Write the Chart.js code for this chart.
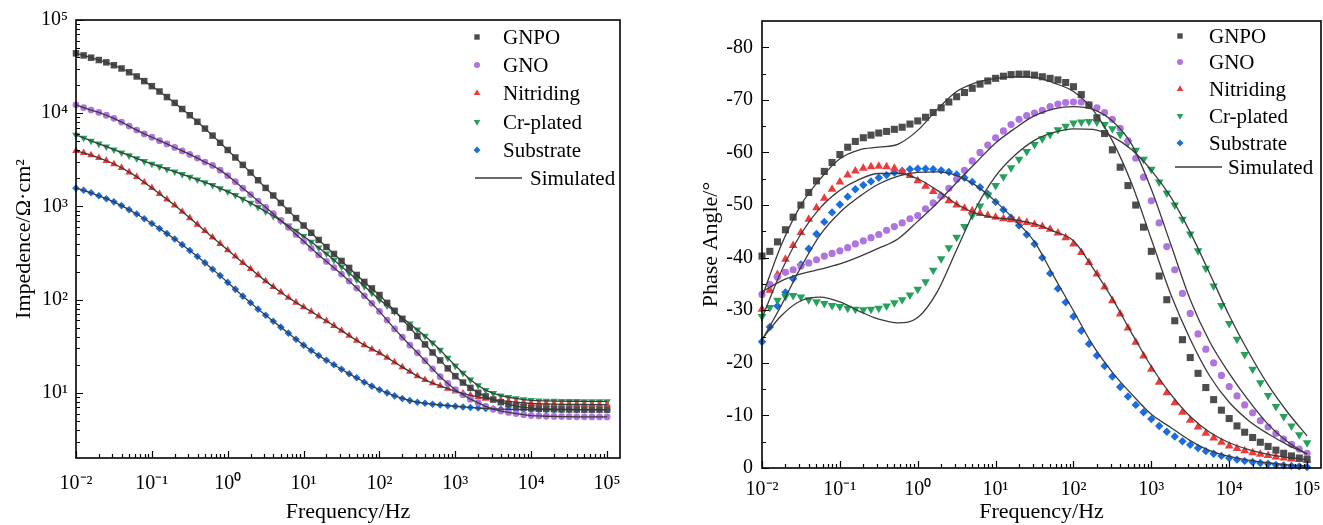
<!DOCTYPE html>
<html>
<head>
<meta charset="utf-8">
<script src="https://cdn.jsdelivr.net/npm/chart.js@4.4.0/dist/chart.umd.min.js"></script>
<style>
  html, body { margin: 0; padding: 0; background: #fff; }
  #wrap { position: relative; width: 1323px; height: 525px; overflow: hidden; }
  #impChart { position: absolute; left: 0; top: 0; }
  #phaseChart { position: absolute; left: 680px; top: 0; }
</style>
</head>
<body>
<div id="wrap">
  <canvas id="impChart" width="650" height="525"></canvas>
  <canvas id="phaseChart" width="663" height="525"></canvas>
</div>
<script>
// measured frequencies (Hz)
const freq = [0.01, 0.0126, 0.0158, 0.02, 0.0251, 0.0316, 0.0398, 0.0501, 0.0631, 0.0794,
  0.1, 0.126, 0.158, 0.2, 0.251, 0.316, 0.398, 0.501, 0.631, 0.794,
  1, 1.26, 1.58, 2, 2.51, 3.16, 3.98, 5.01, 6.31, 7.94,
  10, 12.6, 15.8, 20, 25.1, 31.6, 39.8, 50.1, 63.1, 79.4,
  100, 126, 158, 200, 251, 316, 398, 501, 631, 794,
  1000, 1260, 1580, 2000, 2510, 3160, 3980, 5010, 6310, 7940,
  10000, 12600, 15800, 20000, 25100, 31600, 39800, 50100, 63100, 79400,
  100000];
// frequencies of the fitted (simulated) phase curves
const simFreq = [0.01, 0.0178, 0.0316, 0.0562, 0.1, 0.178, 0.316, 0.562, 1, 1.78,
  3.16, 5.62, 10, 17.8, 31.6, 56.2, 100, 178, 316, 562,
  1000, 1780, 3160, 5620, 10000, 17800, 31600, 56200, 100000];

const seriesNames = ['GNPO', 'GNO', 'Nitriding', 'Cr-plated', 'Substrate'];
const simName = 'Simulated';

// |Z| (ohm cm2)
const zGNPO = [43900, 41700, 39400, 37200, 35100, 32700, 30200, 27500, 24800, 22100,
  19500, 17100, 14900, 12900, 11100, 9510, 8090, 6840, 5750, 4820,
  4030, 3350, 2790, 2310, 1910, 1580, 1310, 1090, 902, 750,
  624, 521, 437, 367, 309, 260, 219, 184, 155, 132,
  112, 92.3, 75.9, 61.7, 50.1, 40.7, 33.1, 27.1, 22.3, 18.3,
  15.1, 12.9, 11.3, 10.0, 9.16, 8.47, 7.94, 7.53, 7.21, 7.00,
  6.84, 6.76, 6.71, 6.68, 6.65, 6.64, 6.62, 6.61, 6.61, 6.61,
  6.6];
const zGNO = [12300, 11500, 10800, 10200, 9510, 8810, 8040, 7280, 6590, 6000,
  5520, 5080, 4680, 4290, 3940, 3610, 3300, 2990, 2750, 2450,
  2140, 1840, 1570, 1340, 1140, 977, 836, 708, 596, 501,
  422, 355, 302, 257, 220, 188, 158, 133, 110, 91.2,
  74.8, 60.3, 48.5, 39.5, 32.5, 26.9, 22.1, 18.1, 14.9, 12.6,
  10.8, 9.55, 8.55, 7.80, 7.16, 6.68, 6.38, 6.17, 6.00, 5.83,
  5.71, 5.65, 5.61, 5.58, 5.56, 5.55, 5.53, 5.53, 5.52, 5.52,
  5.52];
const zNit = [3940, 3760, 3550, 3320, 3090, 2850, 2600, 2330, 2080, 1810,
  1580, 1370, 1190, 1030, 881, 752, 640, 546, 466, 398,
  340, 291, 249, 214, 184, 158, 137, 120, 105, 93.3,
  83.2, 74.5, 66.4, 59.0, 52.5, 46.5, 41.1, 36.5, 32.5, 29.4,
  26.8, 23.9, 21.3, 18.9, 16.9, 15.1, 13.8, 12.7, 11.9, 11.1,
  10.4, 9.89, 9.42, 9.04, 8.71, 8.47, 8.26, 8.09, 7.94, 7.82,
  7.69, 7.62, 7.59, 7.55, 7.53, 7.52, 7.50, 7.50, 7.48, 7.48,
  7.48];
const zCr = [5860, 5430, 5050, 4700, 4370, 4060, 3780, 3520, 3270, 3050,
  2860, 2680, 2510, 2360, 2210, 2070, 1940, 1810, 1690, 1560,
  1440, 1320, 1200, 1090, 984, 883, 789, 702, 621, 547,
  479, 417, 361, 311, 266, 226, 193, 164, 139, 118,
  100, 86.3, 74.5, 64.1, 55.2, 47.6, 40.7, 34.5, 28.8, 23.7,
  19.5, 16.3, 13.8, 12.0, 10.7, 9.89, 9.33, 8.97, 8.71, 8.47,
  8.32, 8.24, 8.20, 8.17, 8.15, 8.13, 8.13, 8.11, 8.11, 8.09,
  8.09];
const zSub = [1570, 1490, 1400, 1300, 1210, 1120, 1020, 923, 828, 738,
  655, 579, 511, 447, 389, 337, 290, 248, 212, 181,
  153, 129, 109, 92.5, 79.1, 67.9, 58.6, 50.7, 43.7, 37.6,
  32.5, 28.5, 25.1, 22.4, 20.0, 17.9, 16.0, 14.5, 13.0, 11.8,
  10.8, 10.0, 9.29, 8.71, 8.26, 7.94, 7.73, 7.55, 7.41, 7.28,
  7.18, 7.06, 6.97, 6.87, 6.79, 6.73, 6.68, 6.64, 6.62, 6.61,
  6.61, 6.60, 6.60, 6.60, 6.60, 6.60, 6.60, 6.60, 6.60, 6.60,
  6.60];

// phase angle (degrees)
const pGNPO = [-40.3, -41.2, -43.0, -45.3, -47.7, -50.0, -52.4, -54.6, -56.4, -58.1,
  -59.6, -61.0, -62.1, -62.8, -63.3, -63.7, -64.0, -64.4, -64.8, -65.4,
  -66.0, -66.7, -67.6, -68.5, -69.6, -70.6, -71.4, -72.2, -73.0, -73.6,
  -74.1, -74.5, -74.8, -74.9, -74.9, -74.7, -74.4, -74.1, -73.8, -73.3,
  -72.5, -71.0, -69.0, -66.6, -63.6, -60.5, -57.2, -53.7, -50.0, -45.8,
  -41.2, -36.5, -32.0, -28.0, -24.4, -21.0, -18.0, -15.3, -13.0, -11.0,
  -9.4, -8.0, -6.8, -5.8, -4.9, -4.1, -3.4, -2.8, -2.3, -1.9,
  -1.6];
const pGNO = [-33.0, -34.9, -36.3, -37.2, -37.7, -38.4, -39.0, -39.6, -40.3, -40.8,
  -41.3, -41.9, -42.6, -43.2, -43.8, -44.4, -45.2, -45.9, -46.6, -47.4,
  -48.0, -49.3, -50.4, -51.7, -53.2, -54.9, -56.6, -58.4, -60.0, -61.4,
  -62.8, -64.1, -65.3, -66.3, -67.0, -67.5, -68.0, -68.7, -69.2, -69.5,
  -69.6, -69.6, -69.1, -68.5, -67.6, -66.3, -64.6, -62.2, -58.9, -55.3,
  -50.8, -46.6, -42.1, -37.7, -33.2, -29.4, -25.5, -22.6, -20.0, -17.6,
  -15.5, -13.7, -12.0, -10.5, -9.0, -7.8, -6.6, -5.5, -4.5, -3.6,
  -2.8];
const pNit = [-30.2, -33.8, -36.8, -39.7, -42.3, -44.8, -47.3, -49.5, -51.3, -53.0,
  -54.4, -55.7, -56.5, -57.0, -57.3, -57.4, -57.3, -57.0, -56.4, -55.6,
  -54.6, -53.6, -52.6, -51.7, -50.8, -50.0, -49.4, -48.9, -48.4, -48.0,
  -47.7, -47.4, -47.2, -47.0, -46.7, -46.3, -45.9, -45.4, -44.7, -43.8,
  -42.6, -41.0, -39.1, -36.9, -34.4, -31.8, -29.3, -26.6, -23.9, -21.3,
  -18.8, -16.3, -14.3, -12.4, -10.6, -9.1, -7.8, -6.6, -5.7, -4.9,
  -4.2, -3.7, -3.3, -2.9, -2.6, -2.4, -2.1, -1.9, -1.7, -1.6,
  -1.5];
const pCr = [-28.8, -30.5, -31.9, -32.6, -32.8, -32.5, -32.0, -31.6, -31.3, -30.9,
  -30.7, -30.4, -30.2, -30.1, -30.2, -30.4, -30.8, -31.4, -32.0, -32.9,
  -34.0, -35.4, -37.6, -39.8, -41.9, -43.9, -45.9, -48.0, -49.8, -51.9,
  -53.7, -55.4, -57.1, -58.7, -60.2, -61.5, -62.6, -63.4, -64.3, -65.0,
  -65.6, -65.8, -65.9, -65.8, -65.3, -64.5, -63.4, -61.9, -60.4, -58.7,
  -56.8, -54.4, -52.3, -50.0, -47.3, -44.5, -41.3, -38.0, -34.6, -30.9,
  -27.5, -24.5, -21.6, -18.8, -16.2, -13.8, -11.7, -9.8, -8.0, -6.3,
  -4.8];
const pSub = [-24.0, -26.8, -30.8, -33.4, -36.0, -38.7, -41.7, -44.5, -46.8, -48.6,
  -50.1, -51.6, -53.0, -53.8, -54.5, -55.2, -55.7, -56.2, -56.5, -56.8,
  -56.9, -56.9, -56.8, -56.6, -56.3, -55.8, -55.2, -54.4, -53.4, -52.1,
  -50.6, -49.1, -47.6, -46.1, -44.4, -42.6, -40.0, -37.0, -34.1, -31.5,
  -28.8, -26.1, -23.6, -21.4, -19.4, -17.4, -15.4, -13.6, -12.0, -10.6,
  -9.3, -8.0, -6.9, -6.0, -5.1, -4.4, -3.8, -3.2, -2.7, -2.3,
  -1.9, -1.6, -1.35, -1.15, -0.95, -0.8, -0.6, -0.5, -0.4, -0.3,
  -0.2];

// simulated phase curves
const sGNPO = [-32.5, -42.5, -50.0, -55.0, -58.8, -60.5, -61.0, -61.6, -64.2, -68.2,
  -71.6, -73.3, -74.1, -74.4, -74.3, -73.2, -71.6, -68.1, -62.2, -54.0,
  -43.5, -33.0, -24.5, -17.5, -12.5, -9.0, -6.5, -4.4, -2.7];
const sGNO = [-33.5, -35.6, -36.9, -37.8, -38.8, -40.2, -41.8, -43.6, -46.9, -50.4,
  -54.3, -58.1, -61.8, -64.6, -67.0, -68.3, -68.7, -68.2, -66.0, -61.5,
  -53.0, -42.5, -32.0, -24.0, -18.0, -12.8, -8.3, -5.0, -2.6];
const sNit = [-28.5, -37.5, -44.5, -49.5, -52.8, -54.9, -56.0, -56.0, -55.0, -52.8,
  -50.2, -48.4, -47.6, -47.2, -46.4, -45.0, -43.2, -38.0, -32.2, -25.6,
  -19.3, -14.0, -9.8, -6.8, -4.8, -3.5, -2.6, -2.0, -1.6];
const sCr = [-24.5, -29.0, -31.8, -32.5, -31.6, -29.8, -28.3, -27.6, -28.6, -33.5,
  -41.5, -49.5, -55.5, -59.5, -62.3, -63.8, -64.5, -64.4, -63.0, -60.5,
  -56.6, -51.5, -44.8, -37.0, -29.0, -22.0, -15.8, -10.6, -6.1];
const sSub = [-24.3, -31.0, -38.2, -44.4, -48.6, -51.6, -54.0, -55.5, -56.2, -56.3,
  -55.6, -53.7, -50.7, -47.1, -43.0, -36.4, -29.9, -23.3, -18.2, -14.0,
  -10.2, -7.7, -5.2, -3.3, -2.2, -1.5, -1.0, -0.6, -0.4];

// axis ticks
const freqTicks = [0.01, 0.1, 1, 10, 100, 1000, 10000, 100000];
const freqTickLabels = ['10⁻²', '10⁻¹', '10⁰', '10¹', '10²', '10³', '10⁴', '10⁵'];
const impTicks = [10, 100, 1000, 10000, 100000];
const impTickLabels = ['10¹', '10²', '10³', '10⁴', '10⁵'];
const phaseTicks = [0, -10, -20, -30, -40, -50, -60, -70, -80];

// styles
const colors = ['#4d4d4d', '#b074e2', '#f03a3a', '#24a25c', '#1a6ee2'];
const markers = ['rect', 'circle', 'triangle', 'triangle', 'rectRot'];
const rotations = [0, 0, 0, 180, 0];
const simColor = '#3a3a3a';
const FONT = "'Liberation Serif', 'Times New Roman', serif";

Chart.defaults.font.family = FONT;
Chart.defaults.color = '#000';

function pts(xs, ys) {
  return xs.map((x, i) => ({ x: x, y: ys[i] }));
}

function minorLog(lo, hi) {
  const out = [];
  for (let d = 0.001; d <= hi; d *= 10) {
    for (let m = 2; m <= 9; m++) {
      const v = +(d * m).toPrecision(3);
      if (v > lo && v < hi) out.push(v);
    }
  }
  return out;
}

function drawMarker(ctx, style, rot, r, x, y) {
  ctx.beginPath();
  if (style === 'circle') {
    ctx.arc(x, y, r, 0, Math.PI * 2);
  } else if (style === 'rect') {
    const s = r * Math.SQRT1_2;
    ctx.rect(x - s, y - s, 2 * s, 2 * s);
  } else if (style === 'rectRot') {
    ctx.moveTo(x, y - r); ctx.lineTo(x + r, y); ctx.lineTo(x, y + r); ctx.lineTo(x - r, y);
    ctx.closePath();
  } else {
    const d = rot ? -1 : 1;
    ctx.moveTo(x, y - d * r);
    ctx.lineTo(x + r * 0.866, y + d * r / 2);
    ctx.lineTo(x - r * 0.866, y + d * r / 2);
    ctx.closePath();
  }
  ctx.fill();
}

// frame, inward ticks and the legend inside the plot
const framePlugin = {
  id: 'frameLegend',
  afterDraw(chart, args, o) {
    const ctx = chart.ctx, a = chart.chartArea;
    const xs = chart.scales.x, ys = chart.scales.y;
    ctx.save();
    ctx.strokeStyle = '#000';
    ctx.lineWidth = 1.2;
    ctx.beginPath();
    const xt = (v, len) => { const p = Math.round(xs.getPixelForValue(v)) + 0.5; ctx.moveTo(p, a.bottom); ctx.lineTo(p, a.bottom - len); };
    const yt = (v, len) => { const p = Math.round(ys.getPixelForValue(v)) + 0.5; ctx.moveTo(a.left, p); ctx.lineTo(a.left + len, p); };
    o.xMajor.forEach(v => xt(v, 7));
    o.xMinor.forEach(v => xt(v, 4));
    o.yMajor.forEach(v => yt(v, 7));
    o.yMinor.forEach(v => yt(v, 4));
    ctx.stroke();
    ctx.lineWidth = 1.6;
    ctx.strokeRect(a.left, a.top, a.right - a.left, a.bottom - a.top);

    ctx.font = '21px ' + FONT;
    ctx.textBaseline = 'alphabetic';
    seriesNames.forEach((name, k) => {
      const y = o.rows[k];
      ctx.fillStyle = colors[k];
      drawMarker(ctx, markers[k], rotations[k], o.legendR[k], a.right - o.markerDx, y);
      ctx.fillStyle = '#000';
      ctx.fillText(name, a.right - o.textDx, y + 7);
    });
    const ys2 = o.rows[5];
    ctx.strokeStyle = simColor;
    ctx.lineWidth = 1.3;
    ctx.beginPath();
    ctx.moveTo(a.right - o.simLine[0], ys2);
    ctx.lineTo(a.right - o.simLine[1], ys2);
    ctx.stroke();
    ctx.fillStyle = '#000';
    ctx.fillText(simName, a.right - o.simTextDx, ys2 + 7);
    ctx.restore();
  }
};

function markerSets(series, radii) {
  return series.map((ys, k) => ({
    label: seriesNames[k],
    data: pts(freq, ys),
    showLine: false,
    order: 1,
    clip: false,
    pointStyle: markers[k],
    rotation: rotations[k],
    pointRadius: radii[k],
    pointBackgroundColor: colors[k],
    pointBorderWidth: 0,
    borderColor: colors[k],
    backgroundColor: colors[k]
  }));
}

function simSets(xs, series, smooth) {
  return series.map(ys => ({
    label: simName,
    data: pts(xs, ys),
    order: 0,
    borderColor: simColor,
    borderWidth: 1.3,
    pointRadius: 0,
    fill: false,
    cubicInterpolationMode: smooth ? 'monotone' : 'default',
    tension: 0
  }));
}

function freqAxis(max, height, pad) {
  return {
    type: 'logarithmic',
    min: 0.01,
    max: max,
    grid: { display: false, drawTicks: false },
    border: { display: false },
    afterBuildTicks: s => { s.ticks = freqTicks.map(v => ({ value: v })); },
    afterFit: s => { s.height = height; },
    ticks: {
      autoSkip: false,
      maxRotation: 0,
      padding: pad,
      font: { size: 20 },
      callback: v => freqTickLabels[freqTicks.indexOf(v)]
    },
    title: { display: true, text: 'Frequency/Hz', font: { size: 22 }, padding: { top: 0, bottom: 0 } }
  };
}

const zSeries = [zGNPO, zGNO, zNit, zCr, zSub];
new Chart(document.getElementById('impChart'), {
  type: 'line',
  data: {
    datasets: markerSets(zSeries, [4.6, 3.4, 4.4, 4.4, 3.8]).concat(simSets(freq, zSeries, false))
  },
  options: {
    responsive: false,
    animation: false,
    devicePixelRatio: 1,
    layout: { padding: { left: 0, top: 20, right: 30, bottom: 0 } },
    plugins: {
      legend: { display: false },
      tooltip: { enabled: false },
      frameLegend: {
        xMajor: freqTicks, xMinor: minorLog(0.01, 1.48e5),
        yMajor: impTicks, yMinor: minorLog(2, 1e5),
        rows: [37, 65, 93, 122, 150, 178],
        legendR: [3.8, 3.0, 3.8, 3.8, 3.5],
        markerDx: 143, textDx: 117, simLine: [145, 98], simTextDx: 90
      }
    },
    scales: {
      x: freqAxis(1.48e5, 67, 14),
      y: {
        type: 'logarithmic',
        min: 2,
        max: 100000,
        grid: { display: false, drawTicks: false },
        border: { display: false },
        afterBuildTicks: s => { s.ticks = impTicks.map(v => ({ value: v })); },
        afterFit: s => { s.width = 76; },
        ticks: {
          autoSkip: false,
          padding: 8,
          font: { size: 20 },
          callback: v => impTickLabels[impTicks.indexOf(v)]
        },
        title: { display: true, text: 'Impedence/Ω·cm²', font: { size: 22 }, padding: { top: 11, bottom: 0 } }
      }
    }
  },
  plugins: [framePlugin]
});

const pSeries = [pGNPO, pGNO, pNit, pCr, pSub];
const sSeries = [sGNPO, sGNO, sNit, sCr, sSub];
new Chart(document.getElementById('phaseChart'), {
  type: 'line',
  data: {
    datasets: markerSets(pSeries, [5.0, 3.6, 5.0, 5.0, 4.2]).concat(simSets(simFreq, sSeries, true))
  },
  options: {
    responsive: false,
    animation: false,
    devicePixelRatio: 1,
    layout: { padding: { left: 0, top: 19, right: 22, bottom: 0 } },
    plugins: {
      legend: { display: false },
      tooltip: { enabled: false },
      frameLegend: {
        xMajor: freqTicks, xMinor: minorLog(0.01, 1.51e5),
        yMajor: phaseTicks, yMinor: [-5, -15, -25, -35, -45, -55, -65, -75],
        rows: [36, 62, 89, 116, 143, 167],
        legendR: [3.8, 3.0, 3.8, 3.8, 3.5],
        markerDx: 141, textDx: 112, simLine: [146, 99], simTextDx: 93
      }
    },
    scales: {
      x: freqAxis(1.51e5, 57, 10),
      y: {
        type: 'linear',
        min: -85,
        max: 0,
        reverse: true,
        grid: { display: false, drawTicks: false },
        border: { display: false },
        afterBuildTicks: s => { s.ticks = phaseTicks.map(v => ({ value: v })); },
        afterFit: s => { s.width = 82; },
        ticks: {
          autoSkip: false,
          padding: 9,
          font: { size: 20 },
          callback: v => String(v)
        },
        title: { display: true, text: 'Phase Angle/°', font: { size: 22 }, padding: { top: 18, bottom: 0 } }
      }
    }
  },
  plugins: [framePlugin]
});
</script>
</body>
</html>
